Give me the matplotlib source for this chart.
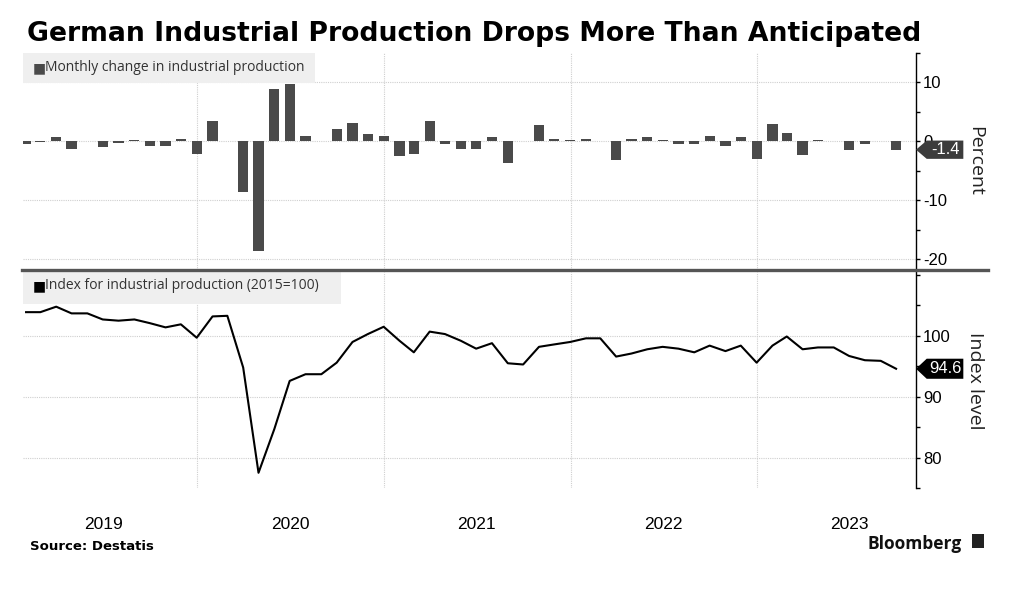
import matplotlib
matplotlib.use("Agg")
import matplotlib.pyplot as plt
from matplotlib.patches import Polygon, Rectangle
from matplotlib.lines import Line2D
from matplotlib.transforms import blended_transform_factory
import pandas as pd

# ---------------- data ----------------
months = pd.date_range("2019-01-31", periods=57, freq="ME")

monthly_change = [
    -0.5, -0.1, 0.7, -1.2, 0.1, -1.0, -0.3, 0.2, -0.8, -0.8, 0.4, -2.1,
    3.4, 0.1, -8.5, -18.5, 8.9, 9.8, 1.0, 0.1, 2.1, 3.2, 1.2, 1.0,
    -2.4, -2.1, 3.5, -0.4, -1.3, -1.3, 0.7, -3.7, 0.1, 2.8, 0.5, 0.3,
    0.5, 0.0, -3.2, 0.5, 0.7, 0.2, -0.4, -0.4, 1.0, -0.8, 0.7, -2.9,
    2.9, 1.5, -2.3, 0.2, 0.0, -1.5, -0.4, 0.0, -1.4,
]

index_level = [
    103.9, 103.9, 104.8, 103.7, 103.7, 102.7, 102.5, 102.7, 102.1, 101.4, 101.9, 99.7,
    103.2, 103.3, 94.8, 77.5, 84.7, 92.6, 93.7, 93.7, 95.6, 99.0, 100.3, 101.5,
    99.2, 97.3, 100.7, 100.3, 99.2, 97.9, 98.8, 95.5, 95.3, 98.2, 98.6, 99.0,
    99.6, 99.6, 96.6, 97.1, 97.8, 98.2, 97.9, 97.3, 98.4, 97.5, 98.4, 95.6,
    98.4, 99.9, 97.8, 98.1, 98.1, 96.7, 96.0, 95.9, 94.6,
]

years = [2019, 2020, 2021, 2022, 2023]
top_ticks = [10, 0, -10, -20]
bottom_ticks = [80, 90, 100]
last_change_label = "-1.4"
last_index_label = "94.6"

title = "German Industrial Production Drops More Than Anticipated"
legend_top = "Monthly change in industrial production"
legend_bottom = "Index for industrial production (2015=100)"

# ---------------- style ----------------
BAR = "#4a4a4a"
GRID = "#cfcfcf"
TICKFONT = ["Liberation Sans", "DejaVu Sans"]
LEGFONT = ["Open Sans", "DejaVu Sans"]

W, H = 1027, 591
fig = plt.figure(figsize=(W / 100, H / 100), dpi=100)
fig.patch.set_facecolor("white")

left = 23 / W
right = 916 / W
ax1 = fig.add_axes([left, 1 - 270 / H, right - left, (270 - 53) / H])
ax2 = fig.add_axes([left, 1 - 488 / H, right - left, (488 - 272) / H])

xmin = pd.Timestamp("2019-01-25")
xmax = pd.Timestamp("2023-11-08")

for ax in (ax1, ax2):
    ax.set_xlim(xmin, xmax)
    for s in ("top", "left", "bottom"):
        ax.spines[s].set_visible(False)
    ax.spines["right"].set_color("black")
    ax.spines["right"].set_linewidth(1.0)
    ax.yaxis.tick_right()
    ax.yaxis.set_label_position("right")
    ax.tick_params(axis="y", which="both", direction="out", length=3, width=1,
                   pad=2, labelsize=12, colors="black")
    ax.tick_params(axis="x", which="both", length=0)
    for y in years[1:]:
        ax.axvline(pd.Timestamp(f"{y}-01-01"), color=GRID, lw=0.8, ls=(0, (1, 1)), zorder=0)

# --- top: bars ---
ax1.bar(months, monthly_change, width=20, color=BAR, zorder=3)
ax1.set_ylim(-21.8, 15)
ax1.set_yticks(top_ticks)
ax1.set_yticks([15, 5, -5, -15], minor=True)
ax1.set_yticklabels([str(v) for v in top_ticks], family=TICKFONT)
for v in top_ticks:
    ax1.axhline(v, color=GRID, lw=0.8, ls=(0, (1, 1)), zorder=0)
ax1.set_xticks([])

# --- bottom: line ---
ax2.plot(months, index_level, color="black", lw=1.5, zorder=3)
ax2.set_ylim(75, 110.5)
ax2.set_yticks(bottom_ticks)
ax2.set_yticks([75, 85, 95, 105, 110], minor=True)
ax2.set_yticklabels([str(v) for v in bottom_ticks], family=TICKFONT)
for v in bottom_ticks:
    ax2.axhline(v, color=GRID, lw=0.8, ls=(0, (1, 1)), zorder=0)
ax2.set_xticks([pd.Timestamp(f"{y}-07-01") for y in years])
ax2.set_xticklabels([str(y) for y in years], family=TICKFONT, fontsize=12.5)
ax2.tick_params(axis="x", pad=21)

# --- legends (boxes in the top-left corner) ---
ax1.text(0.011, 0.962, "\u25A0", transform=ax1.transAxes, ha="left", va="top",
         fontsize=10, color=BAR, family=["DejaVu Sans"], zorder=6)
ax1.text(0.025, 0.968, legend_top, transform=ax1.transAxes, ha="left", va="top",
         fontsize=10, color="#333333", family=LEGFONT, zorder=6)
ax1.add_patch(Rectangle((0, 1 - 30 / 217), 292 / 893, 30 / 217, transform=ax1.transAxes,
                        facecolor="#efefef", edgecolor="none", zorder=5))

ax2.text(0.011, 0.965, "\u25A0", transform=ax2.transAxes, ha="left", va="top",
         fontsize=10, color="black", family=["DejaVu Sans"], zorder=6)
ax2.text(0.025, 0.972, legend_bottom, transform=ax2.transAxes, ha="left", va="top",
         fontsize=10, color="#333333", family=LEGFONT, zorder=6)
ax2.add_patch(Rectangle((0, 1 - 32 / 216), 318 / 893, 32 / 216, transform=ax2.transAxes,
                        facecolor="#efefef", edgecolor="none", zorder=5))

# --- value tags on the right axis ---
def value_tag(ax, value, label, color, half):
    tr = blended_transform_factory(ax.transAxes, ax.transData)
    pts = [(1.0, value), (1.012, value + half), (1.053, value + half),
           (1.053, value - half), (1.012, value - half)]
    ax.add_patch(Polygon(pts, closed=True, transform=tr, facecolor=color,
                         edgecolor="none", clip_on=False, zorder=10))
    ax.text(1.033, value, label, transform=tr, ha="center", va="center",
            color="white", fontsize=12, family=TICKFONT, zorder=11, clip_on=False)

value_tag(ax1, monthly_change[-1], last_change_label, "#3c3c3c", 1.55)
value_tag(ax2, index_level[-1], last_index_label, "black", 1.65)

# --- axis labels ---
fig.text(975 / W, 1 - 161 / H, "Percent", rotation=270, ha="center", va="center",
         fontsize=14, family=LEGFONT, color="#222222")
fig.text(975 / W, 1 - 381 / H, "Index level", rotation=270, ha="center", va="center",
         fontsize=14, family=LEGFONT, color="#222222")

# --- separator ---
fig.add_artist(Line2D([22 / W, 988 / W], [1 - 270 / H, 1 - 270 / H], color="#555555",
                      lw=2.4, transform=fig.transFigure))

# --- title and footer ---
fig.text(27 / W, 1 - 41 / H, title, ha="left", va="baseline", fontsize=19.2,
         fontweight="bold", family=["DejaVu Sans"], color="black")
fig.text(30 / W, 1 - 550 / H, "Source: Destatis", ha="left", va="baseline",
         fontsize=9.5, fontweight="bold", family=["DejaVu Sans"], color="black")
fig.text(962 / W, 1 - 549 / H, "Bloomberg", ha="right", va="baseline",
         fontsize=12.5, fontweight="bold", family=["Open Sans", "DejaVu Sans"], color="#111111")
fig.add_artist(Rectangle((972 / W, 1 - 548 / H), 12 / W, 14 / H, transform=fig.transFigure,
                         facecolor="#222222", edgecolor="none"))

fig.savefig("out.png", dpi=100, facecolor="white")
